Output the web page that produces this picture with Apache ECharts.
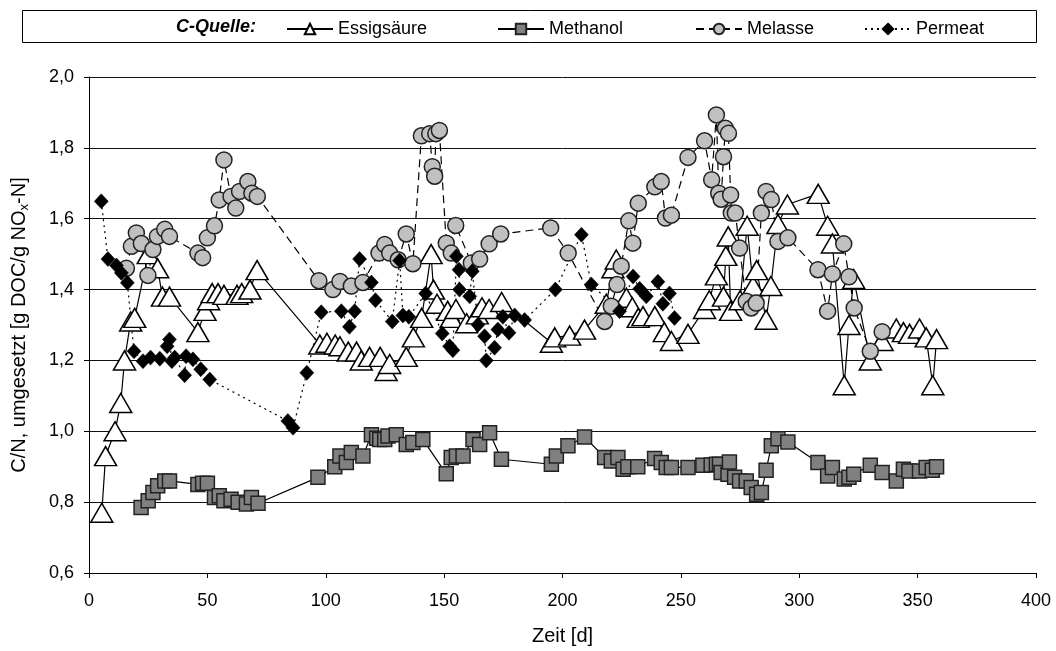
<!DOCTYPE html>
<html>
<head>
<meta charset="utf-8">
<script src="https://cdn.jsdelivr.net/npm/echarts@6/dist/echarts.min.js"></script>
<style>
  html, body { margin: 0; padding: 0; background: #fff; }
  #chart { width: 1056px; height: 651px; }
</style>
</head>
<body>
<div id="chart"></div>
<script>
// C/N-Verhältnis (umgesetzt) über der Versuchszeit, je Kohlenstoffquelle: [Tag, C/N]
const essigsaeure = [
  [5.4,0.77],[7,0.93],[11,1.00],[13.4,1.08],[15,1.20],[17.6,1.31],[19.3,1.32],[25,1.50],[29,1.46],[31,1.38],
  [34,1.38],[46,1.28],[49,1.34],[50.5,1.37],[52,1.39],[54.5,1.39],[57,1.385],[62.5,1.385],[64.5,1.39],[68,1.40],
  [71,1.455],[97.5,1.245],[100.5,1.25],[104,1.245],[106,1.24],[109.5,1.225],[113,1.225],[115,1.20],[118.5,1.21],
  [123,1.21],[125.5,1.17],[127,1.19],[134,1.21],[137,1.265],[140.5,1.32],[144.5,1.50],[145.5,1.40],[147,1.36],
  [151.5,1.34],[153,1.32],[155,1.345],[159.5,1.305],[164,1.33],[166,1.35],[169,1.345],[174.3,1.365],
  [195.3,1.25],[196.7,1.265],[203,1.27],[209.3,1.287],[218.5,1.36],[221.3,1.46],[222.7,1.485],[227,1.377],
  [229.5,1.35],[232,1.32],[234,1.325],[239,1.325],[243,1.28],[246,1.255],[253,1.275],[260,1.345],[262,1.37],
  [265,1.44],[268,1.38],[269,1.495],[270,1.55],[271,1.34],[275,1.37],[278,1.58],[280.5,1.41],[282,1.455],
  [286,1.315],[288,1.41],[291,1.585],[295,1.64],[308,1.67],[312,1.58],[314,1.53],[319,1.13],[321,1.30],
  [323,1.43],[330,1.20],[335,1.255],[341,1.29],[344,1.28],[346.6,1.275],[350.8,1.29],[353.6,1.265],
  [356.4,1.13],[358,1.26]
];

const methanol = [
  [22,0.785],[25,0.804],[27,0.827],[29,0.846],[32,0.86],[34,0.86],[46,0.85],[48,0.853],[50,0.853],[53,0.813],
  [55,0.818],[57,0.804],[60,0.808],[63,0.80],[66.5,0.795],[68.6,0.813],[71.4,0.797],[96.7,0.87],[103.8,0.90],
  [106,0.93],[108.7,0.912],[110.8,0.94],[115.7,0.93],[119.3,0.99],[121.5,0.98],[122.8,0.977],[124.9,0.977],
  [126.3,0.987],[129.8,0.99],[134,0.963],[136.8,0.968],[141,0.977],[150.9,0.88],[153,0.926],[155.2,0.93],
  [158,0.93],[162.2,0.977],[165,0.963],[169.2,0.996],[174.2,0.921],[195.3,0.907],[197.4,0.93],[202.3,0.959],
  [209.3,0.984],[217.8,0.926],[220.6,0.916],[223.4,0.926],[225.6,0.893],[227.6,0.90],[231.8,0.90],
  [238.9,0.923],[241.7,0.912],[243.8,0.898],[246,0.898],[253,0.898],[259.3,0.904],[262.8,0.905],[265,0.907],
  [266.3,0.907],[267,0.884],[269.9,0.879],[270.5,0.913],[272.7,0.87],[274.8,0.86],[277.6,0.86],[279.7,0.841],
  [282,0.822],[284,0.827],[286,0.89],[288.2,0.959],[291,0.979],[295.2,0.97],[307.9,0.912],[312,0.874],
  [314,0.898],[319,0.865],[321,0.87],[323,0.879],[330,0.904],[335,0.884],[341,0.86],[344,0.893],
  [346.3,0.888],[350.8,0.888],[353.6,0.898],[356.2,0.89],[358,0.90]
];

const melasse = [
  [15.8,1.46],[17.9,1.522],[20,1.56],[22.1,1.53],[24.9,1.44],[27,1.513],[28.9,1.55],[32,1.57],[34,1.55],
  [46,1.503],[48,1.49],[50,1.546],[53,1.58],[55,1.653],[57,1.766],[60,1.663],[62,1.63],[63.6,1.677],
  [67.1,1.705],[68.8,1.672],[71.1,1.663],[97.1,1.425],[103,1.40],[106,1.423],[110.8,1.41],[115.7,1.42],
  [122.5,1.503],[124.9,1.527],[127,1.503],[130.6,1.484],[134,1.557],[136.8,1.473],[140.4,1.834],[143.9,1.84],
  [145,1.747],[146,1.72],[146.5,1.84],[148,1.849],[150.9,1.531],[153,1.503],[154.9,1.581],[161.5,1.475],
  [165,1.486],[169,1.529],[173.9,1.557],[195,1.574],[202.4,1.503],[217.8,1.31],[220.6,1.353],[223,1.414],
  [224.8,1.466],[228,1.594],[229.7,1.531],[232,1.644],[239,1.69],[241.7,1.705],[243.5,1.602],[246,1.61],
  [253,1.773],[260,1.82],[263,1.71],[265,1.893],[266,1.672],[267,1.655],[268,1.775],[268.8,1.855],
  [270.1,1.841],[271,1.667],[271.3,1.616],[273,1.616],[274.8,1.517],[277.6,1.367],[279.7,1.348],
  [281.8,1.362],[284,1.616],[286,1.677],[288.2,1.654],[291,1.536],[295.2,1.546],[307.9,1.456],[312,1.339],
  [314,1.444],[318.8,1.529],[321,1.436],[323.2,1.348],[330,1.226],[335,1.281]
];

const permeat = [
  [5.2,1.649],[8,1.486],[11.6,1.468],[13.7,1.447],[16.2,1.419],[19,1.226],[22.8,1.198],[26,1.208],
  [29.9,1.205],[33,1.24],[34,1.259],[35,1.198],[36.2,1.208],[40.4,1.158],[41,1.212],[43.9,1.203],
  [47.2,1.175],[51,1.146],[84,1.029],[86.2,1.01],[92,1.165],[98.1,1.336],[106.6,1.339],[110,1.295],
  [112.2,1.339],[114.3,1.486],[119.3,1.42],[121,1.37],[128.1,1.31],[131.2,1.482],[132.6,1.327],
  [135.1,1.323],[142.2,1.389],[149.2,1.276],[152.3,1.24],[153.7,1.229],[155.2,1.494],[156.3,1.456],
  [156.5,1.40],[160.8,1.381],[161.9,1.452],[164.3,1.301],[167.1,1.268],[167.8,1.20],[171.3,1.236],
  [172.7,1.287],[174.8,1.323],[177.4,1.278],[179.8,1.327],[184,1.314],[197,1.40],[208,1.555],[212.2,1.414],
  [224.1,1.339],[229.8,1.437],[232.6,1.402],[235.4,1.381],[240.3,1.422],[242.4,1.36],[245.2,1.389],
  [247.3,1.32]
];

const seriesNames = ['Essigsäure', 'Methanol', 'Melasse', 'Permeat'];
const legendTitle = 'C-Quelle:';
const xAxisName = 'Zeit [d]';

const FONT = '"Liberation Sans", Arial, sans-serif';
const FS = 18;       // tick labels and legend
const FS_TITLE = 20; // axis titles

const chart = echarts.init(document.getElementById('chart'), null, { renderer: 'canvas' });

function legendAt(name, left) {
  return {
    data: [name], left: left, top: 15, itemWidth: 46, itemHeight: 13, itemGap: 6,
    textStyle: { fontFamily: FONT, fontSize: FS, color: '#000' },
    selectedMode: false
  };
}

chart.setOption({
  animation: false,
  backgroundColor: '#fff',
  graphic: [
    { type: 'rect', left: 22, top: 10, z: 0,
      shape: { width: 1014, height: 32 },
      style: { fill: '#fff', stroke: '#000', lineWidth: 1 } },
    { type: 'text', left: 176, top: 18, z: 1,
      style: { text: legendTitle, font: 'italic bold ' + FS + 'px ' + FONT, fill: '#000' } }
  ],
  legend: [
    legendAt(seriesNames[0], 281),
    legendAt(seriesNames[1], 492),
    legendAt(seriesNames[2], 690),
    legendAt(seriesNames[3], 859)
  ],
  grid: { left: 89, right: 20, top: 77, bottom: 76, containLabel: false },
  xAxis: {
    type: 'value', min: 0, max: 400, interval: 50,
    name: xAxisName, nameLocation: 'middle', nameGap: 53,
    nameTextStyle: { fontFamily: FONT, fontSize: FS_TITLE, color: '#000' },
    axisLine: { lineStyle: { color: '#000', width: 1 } },
    axisTick: { show: true, inside: false, length: 5, lineStyle: { color: '#000' } },
    axisLabel: { fontFamily: FONT, fontSize: FS, color: '#000', margin: 19 },
    splitLine: { show: false }
  },
  yAxis: {
    type: 'value', min: 0.6, max: 2.0, interval: 0.2,
    name: '{a|C/N, umgesetzt [g DOC/g NO}{s|x}{a|-N]}',
    nameLocation: 'middle', nameGap: 58, nameRotate: 90,
    nameTextStyle: {
      rich: {
        a: { fontFamily: FONT, fontSize: FS_TITLE, color: '#000', lineHeight: 24 },
        s: { fontFamily: FONT, fontSize: 13, color: '#000', lineHeight: 24, verticalAlign: 'bottom', padding: [9, 0, 0, 0] }
      }
    },
    axisLine: { show: true, lineStyle: { color: '#000', width: 1 } },
    axisTick: { show: true, inside: false, length: 5, lineStyle: { color: '#000' } },
    axisLabel: {
      fontFamily: FONT, fontSize: FS, color: '#000', margin: 15,
      formatter: v => v.toFixed(1).replace('.', ',')
    },
    splitLine: { show: true, lineStyle: { color: '#111', width: 1 } }
  },
  series: [
    {
      name: seriesNames[0], type: 'line', data: essigsaeure,
      symbol: 'triangle', symbolSize: [22, 19],
      itemStyle: { color: '#fff', borderColor: '#000', borderWidth: 1.5 },
      lineStyle: { color: '#000', width: 1.2 }
    },
    {
      name: seriesNames[1], type: 'line', data: methanol,
      symbol: 'rect', symbolSize: 14,
      itemStyle: { color: '#808080', borderColor: '#222', borderWidth: 1.5 },
      lineStyle: { color: '#000', width: 1.2 }
    },
    {
      name: seriesNames[2], type: 'line', data: melasse,
      symbol: 'circle', symbolSize: 16,
      itemStyle: { color: '#c0c0c0', borderColor: '#222', borderWidth: 1.5 },
      lineStyle: { color: '#000', width: 1.2, type: [8, 5] }
    },
    {
      name: seriesNames[3], type: 'line', data: permeat,
      symbol: 'diamond', symbolSize: [14, 15],
      itemStyle: { color: '#000', borderColor: '#000', borderWidth: 0.5 },
      lineStyle: { color: '#000', width: 1.2, type: [2, 4] }
    }
  ]
});
</script>
</body>
</html>
